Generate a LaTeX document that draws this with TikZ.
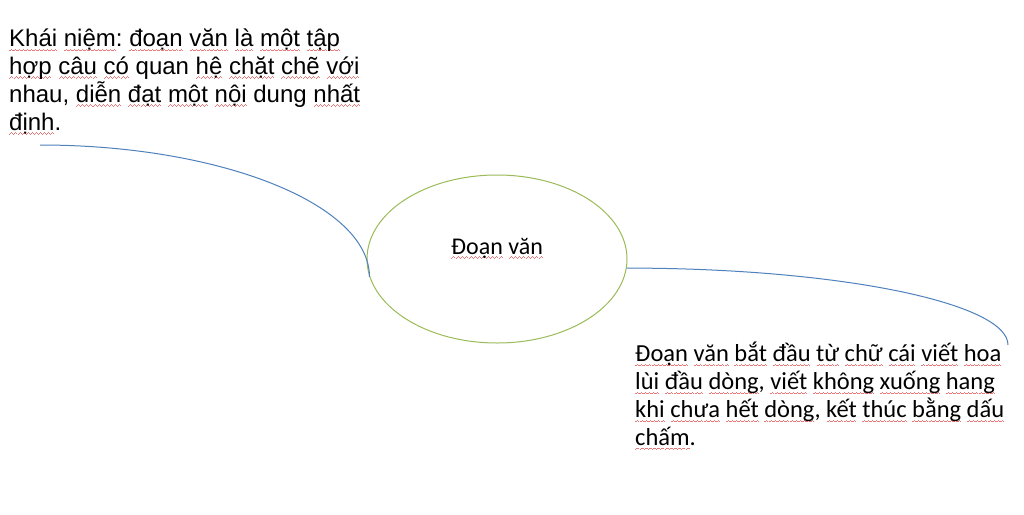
\documentclass[tikz,border=0pt]{standalone}
\usepackage{fontspec}
\setmainfont{Liberation Sans}
\newfontfamily\calfont{Carlito}
\usetikzlibrary{shapes.geometric}
\definecolor{linkblue}{HTML}{4F81BD}
\definecolor{ellgreen}{HTML}{9BBB59}
\definecolor{squig}{RGB}{235,120,120}
\frenchspacing
\newsavebox\sqbox
\newcommand\wavecell{\hbox{\rule[-4.4pt]{1pt}{0.75pt}\rule[-3.6pt]{1pt}{0.75pt}\rule[-2.8pt]{1pt}{0.75pt}\rule[-3.6pt]{1pt}{0.75pt}}}
\newcommand\sq[1]{\sbox\sqbox{#1}\rlap{\hbox to\wd\sqbox{\color{squig}\xleaders\wavecell\hfil}}\usebox\sqbox}
\tikzset{
  toptext/.style={anchor=base west, inner sep=0pt, font=\fontsize{24}{28}\selectfont},
  bottext/.style={anchor=base west, inner sep=0pt, font=\calfont\fontsize{24.5}{28}\selectfont},
  centre/.style={ellipse, draw=ellgreen, line width=1pt, minimum width=260pt, minimum height=168pt},
  link/.style={draw=linkblue, line width=1pt}
}
\begin{document}
\begin{tikzpicture}[x=1pt,y=-1pt]
\useasboundingbox[fill=white] (0,0) rectangle (1024,514);
% top-left text
\node[toptext] (t1) at (9,46.7) {\sq{Khái} \sq{niệm}: \sq{đoạn} \sq{văn} \sq{là} \sq{một} \sq{tập}};
\node[toptext] (t2) at (9,74.4) {\sq{hợp} \sq{câu} \sq{có} quan \sq{hệ} \sq{chặt} \sq{chẽ} \sq{với}};
\node[toptext] (t3) at (9,102.2) {nhau, \sq{diễn} \sq{đạt} \sq{một} \sq{nội} dung \sq{nhất}};
\node[toptext] (t4) at (9,130) {\sq{định}.};
% bottom-right text
\node[bottext] (b1) at (635,361.7) {\sq{Đoạn} \sq{văn} \sq{bắt} \sq{đầu} \sq{từ} \sq{chữ} \sq{cái} \sq{viết} \sq{hoa}};
\node[bottext] (b2) at (635,389.7) {\sq{lùi} \sq{đầu} \sq{dòng}, \sq{viết} \sq{không} \sq{xuống} \sq{hang}};
\node[bottext] (b3) at (635,417.7) {\sq{khi} \sq{chưa} \sq{hết} \sq{dòng}, \sq{kết} \sq{thúc} \sq{bằng} \sq{dấu}};
\node[bottext] (b4) at (635,445.5) {\sq{chấm}.};
% central ellipse
\node[centre] (e) at (497,259) {};
\node[anchor=base, inner sep=0pt, font=\calfont\fontsize{24}{28}\selectfont] (lbl) at (497,254) {\sq{Đoạn} \sq{văn}};
% connectors
\coordinate (lt) at (40,145);
\coordinate (rt) at (1008,345);
\draw[link] (lt) .. controls +(180,0) and +(0,-73) .. (e.188);
\draw[link] (e.-4.5) .. controls +(212,0) and +(0,-42) .. (rt);
\end{tikzpicture}
\end{document}
